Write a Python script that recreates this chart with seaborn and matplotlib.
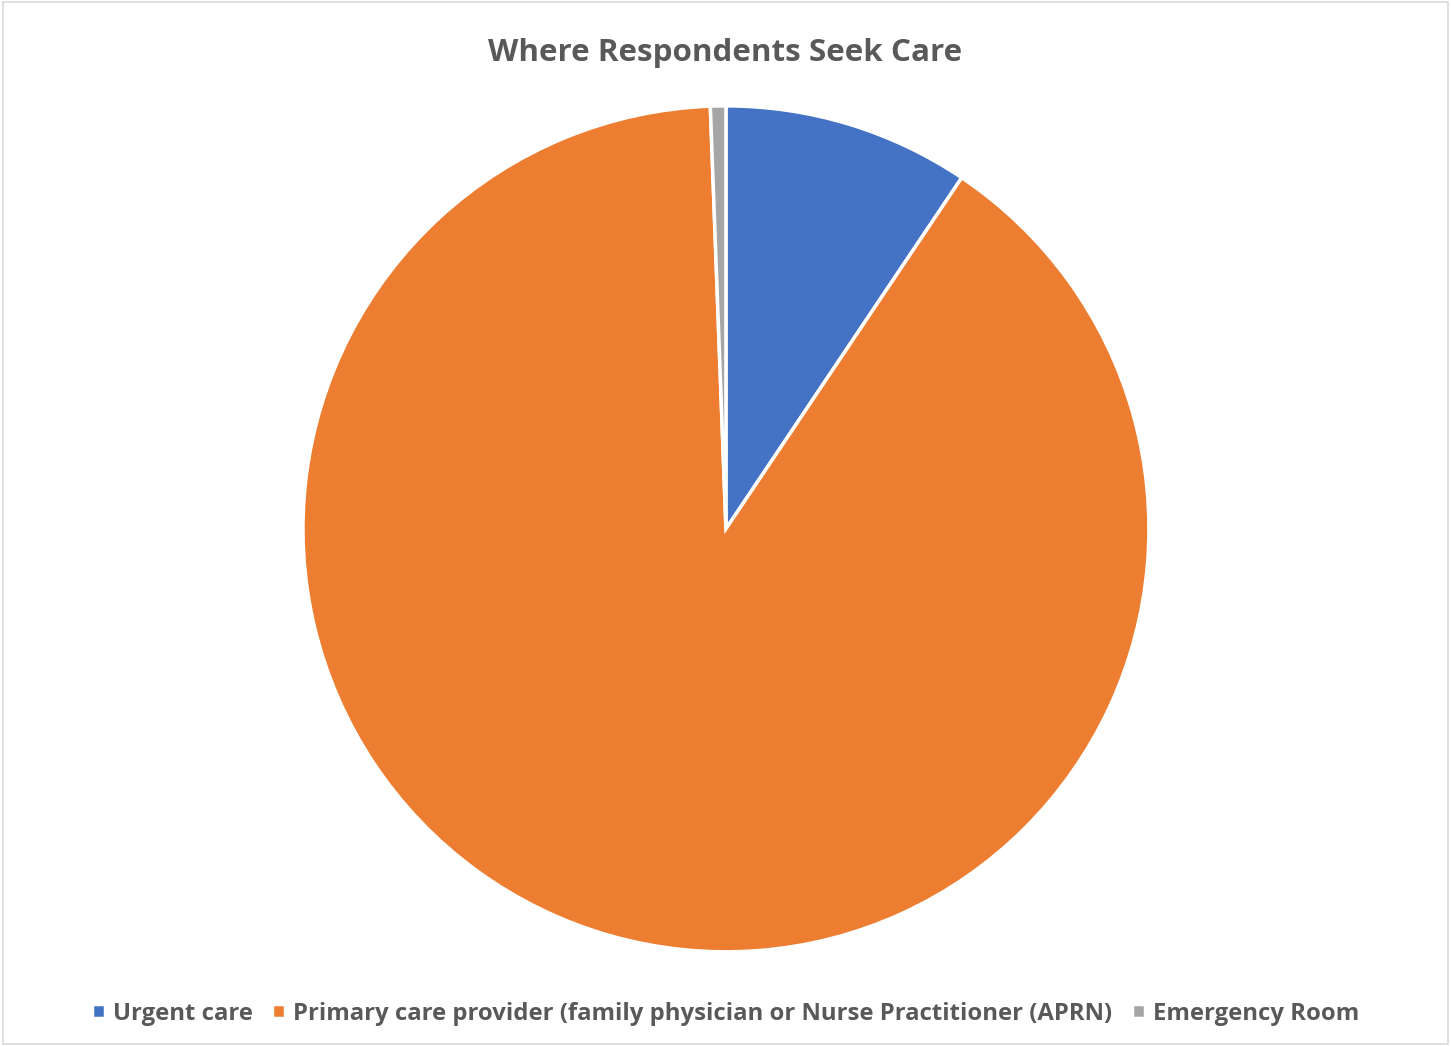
import matplotlib
matplotlib.use("Agg")
import matplotlib.pyplot as plt
import seaborn as sns
from matplotlib.patches import Rectangle

categories = ["Urgent care",
              "Primary care provider (family physician or Nurse Practitioner (APRN)",
              "Emergency Room"]
values = [16, 153, 1]
colors = ["#4472C4", "#ED7D31", "#A5A5A5"]

sns.set_style("white")
plt.rcParams['font.family'] = ['Open Sans', 'DejaVu Sans']

fig = plt.figure(figsize=(14.51, 10.46), dpi=100)
fig.patch.set_facecolor("white")
fig.add_artist(Rectangle((0.002, 0.002), 0.996, 0.996, transform=fig.transFigure,
                         fill=False, edgecolor="#D9D9D9", linewidth=1.2))

ax = fig.add_axes([0.2088, 0.0899, 0.583, 0.809])
wedges, _ = ax.pie(values, colors=colors, startangle=90, counterclock=False,
                   wedgeprops=dict(edgecolor="white", linewidth=2.5))
ax.set_aspect("equal")
ax.set_xlim(-1, 1)
ax.set_ylim(-1, 1)

fig.text(0.5, 0.949, "Where Respondents Seek Care", ha="center", va="center",
         fontsize=22.6, fontweight="bold", color="#595959")

leg = fig.legend(wedges, categories, loc="center", bbox_to_anchor=(0.5, 0.031),
                 ncol=3, frameon=False, fontsize=17.2, handlelength=0.55,
                 handleheight=0.55, handletextpad=0.35, columnspacing=0.8)
for t in leg.get_texts():
    t.set_color("#595959")
    t.set_fontweight("bold")

fig.savefig("out.png", dpi=100, facecolor="white")
